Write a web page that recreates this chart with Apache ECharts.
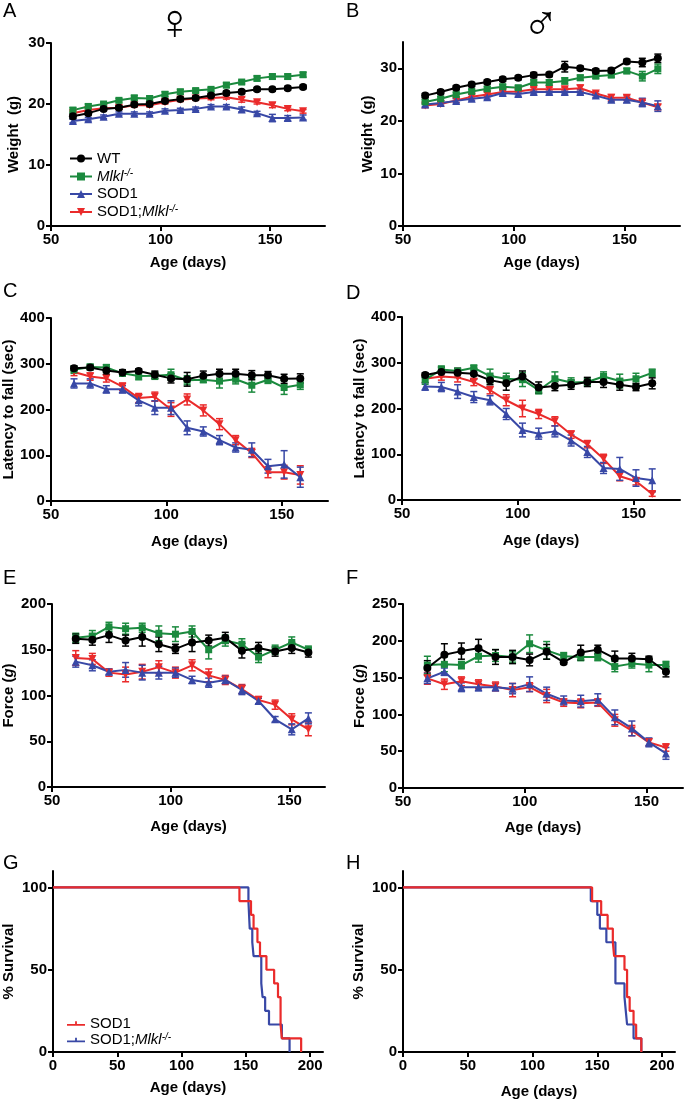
<!DOCTYPE html>
<html>
<head>
<meta charset="utf-8">
<script src="https://cdn.jsdelivr.net/npm/echarts@6/dist/echarts.min.js"></script>
<style>
html, body { margin: 0; padding: 0; background: #fff; }
#main { width: 685px; height: 1100px; }
</style>
</head>
<body>
<div id="main"></div>
<script>
// ages of measurement
var weightDays = [60, 67, 74, 81, 88, 95, 102, 109, 116, 123, 130, 137, 144, 151, 158, 165];
var testDays = [60, 67, 74, 81, 88, 95, 102, 109, 116, 123, 130, 137, 144, 151, 158];
var ageTicks = [50, 100, 150];
var survTicks = [0, 50, 100, 150, 200];

// A - female weight (g)
var fwWT = [18.0, 18.5, 19.2, 19.4, 19.9, 20.0, 20.5, 20.8, 21.0, 21.4, 21.8, 22.0, 22.4, 22.4, 22.6, 22.8];
var fwWTErr = [0.4, 0.3, 0.3, 0.3, 0.3, 0.3, 0.3, 0.3, 0.3, 0.3, 0.3, 0.3, 0.3, 0.3, 0.3, 0.3];
var fwMlkl = [19.0, 19.6, 20.0, 20.6, 21.0, 20.9, 21.6, 22.0, 22.2, 22.4, 23.1, 23.6, 24.2, 24.5, 24.5, 24.8];
var fwMlklErr = [0.4, 0.4, 0.3, 0.3, 0.4, 0.4, 0.4, 0.4, 0.3, 0.3, 0.4, 0.3, 0.4, 0.4, 0.4, 0.4];
var fwSOD1 = [17.2, 17.5, 17.9, 18.4, 18.4, 18.4, 18.9, 19.0, 19.2, 19.6, 19.6, 19.1, 18.5, 17.7, 17.7, 17.8];
var fwSOD1Err = [0.3, 0.3, 0.3, 0.3, 0.3, 0.3, 0.3, 0.3, 0.3, 0.3, 0.3, 0.4, 0.3, 0.6, 0.4, 0.4];
var fwDKO = [18.5, 19.0, 19.3, 19.4, 19.8, 19.8, 20.3, 20.7, 20.9, 21.0, 21.1, 20.7, 20.3, 19.8, 19.2, 18.8];
var fwDKOErr = [0.3, 0.3, 0.3, 0.3, 0.3, 0.3, 0.3, 0.3, 0.3, 0.3, 0.3, 0.4, 0.3, 0.4, 0.3, 0.3];

// B - male weight (g)
var mwWT = [24.8, 25.5, 26.3, 26.9, 27.4, 27.9, 28.2, 28.7, 28.8, 30.3, 30.0, 29.5, 29.6, 31.3, 31.1, 31.9];
var mwWTErr = [0.4, 0.4, 0.4, 0.4, 0.4, 0.4, 0.4, 0.5, 0.4, 1.0, 0.4, 0.4, 0.4, 0.4, 0.8, 0.8];
var mwMlkl = [23.6, 24.2, 25.0, 25.6, 26.1, 26.5, 26.3, 27.3, 27.3, 27.6, 28.2, 28.5, 28.7, 29.5, 28.5, 29.9];
var mwMlklErr = [0.4, 0.4, 0.4, 0.4, 0.4, 0.4, 0.4, 0.5, 0.5, 0.6, 0.5, 0.4, 0.4, 0.5, 0.9, 0.9];
var mwSOD1 = [23.1, 23.4, 23.8, 24.2, 24.5, 25.3, 25.1, 25.5, 25.5, 25.5, 25.5, 24.8, 24.0, 24.0, 23.5, 22.8];
var mwSOD1Err = [0.4, 0.4, 0.4, 0.4, 0.4, 0.4, 0.4, 0.4, 0.4, 0.4, 0.4, 0.4, 0.4, 0.5, 0.8, 1.0];
var mwDKO = [22.9, 23.2, 23.9, 24.6, 25.0, 25.5, 25.6, 26.0, 26.0, 26.0, 26.2, 25.2, 24.4, 24.4, 23.5, 22.6];
var mwDKOErr = [0.4, 0.4, 0.4, 0.4, 0.4, 0.4, 0.4, 0.4, 0.4, 0.4, 0.6, 0.4, 0.6, 0.5, 0.4, 0.5];

// C - female latency to fall (sec)
var frWT = [290, 292, 285, 281, 284, 276, 268, 266, 274, 278, 278, 275, 275, 267, 268];
var frWTErr = [5, 5, 8, 6, 5, 8, 10, 15, 10, 10, 10, 10, 8, 10, 10];
var frMlkl = [287, 293, 292, 279, 273, 274, 276, 264, 265, 262, 266, 253, 265, 248, 254];
var frMlklErr = [8, 6, 6, 6, 8, 8, 12, 10, 6, 15, 10, 15, 8, 15, 10];
var frSOD1 = [257, 257, 244, 244, 220, 204, 204, 160, 152, 133, 117, 112, 76, 80, 52];
var frSOD1Err = [10, 10, 8, 8, 12, 15, 15, 15, 10, 10, 10, 15, 15, 30, 22];
var frDKO = [282, 272, 268, 250, 225, 228, 200, 222, 198, 168, 133, 105, 63, 63, 57];
var frDKOErr = [8, 8, 8, 8, 10, 10, 15, 12, 12, 12, 10, 10, 12, 15, 20];

// D - male latency to fall (sec)
var mrWT = [273, 280, 278, 276, 262, 255, 270, 246, 249, 252, 258, 258, 252, 247, 255];
var mrWTErr = [5, 10, 10, 12, 10, 15, 12, 12, 10, 10, 10, 12, 12, 8, 12];
var mrMlkl = [263, 285, 282, 289, 271, 265, 263, 240, 265, 257, 258, 270, 260, 265, 278];
var mrMlklErr = [10, 8, 5, 5, 15, 12, 15, 8, 15, 10, 8, 10, 15, 12, 8];
var mrSOD1 = [248, 247, 237, 225, 218, 188, 153, 145, 150, 130, 105, 70, 68, 48, 43];
var mrSOD1Err = [8, 10, 15, 12, 10, 12, 15, 12, 12, 12, 12, 12, 25, 18, 25];
var mrDKO = [265, 270, 268, 258, 240, 218, 200, 188, 172, 143, 122, 90, 52, 41, 13];
var mrDKOErr = [8, 8, 10, 8, 8, 12, 18, 10, 10, 8, 8, 10, 10, 8, 5];

// E - female grip force (g)
var fgWT = [162, 161, 166, 160, 164, 156, 151, 158, 160, 163, 149, 152, 148, 152, 147];
var fgWTErr = [5, 6, 8, 6, 10, 8, 5, 10, 6, 6, 8, 6, 5, 6, 5];
var fgMlkl = [163, 165, 175, 173, 174, 168, 167, 170, 150, 160, 156, 142, 150, 158, 150];
var fgMlklErr = [5, 6, 5, 6, 5, 8, 8, 6, 10, 6, 6, 6, 5, 6, 4];
var fgSOD1 = [137, 133, 126, 128, 125, 125, 125, 117, 114, 117, 106, 94, 74, 63, 75];
var fgSOD1Err = [6, 6, 3, 8, 8, 7, 5, 4, 5, 4, 5, 3, 3, 6, 6];
var fgDKO = [141, 140, 125, 123, 126, 131, 125, 133, 122, 117, 107, 95, 90, 74, 63];
var fgDKOErr = [8, 6, 4, 8, 8, 7, 6, 6, 7, 5, 5, 4, 5, 6, 7];

// F - male grip force (g)
var mgWT = [163, 181, 186, 190, 178, 178, 174, 185, 171, 184, 188, 176, 176, 175, 158];
var mgWTErr = [10, 15, 11, 12, 10, 9, 8, 10, 3, 10, 6, 10, 7, 4, 7];
var mgMlkl = [167, 168, 167, 179, 180, 178, 196, 187, 179, 178, 178, 165, 169, 167, 167];
var mgMlklErr = [12, 10, 5, 8, 8, 7, 12, 12, 5, 5, 5, 7, 6, 9, 5];
var mgSOD1 = [149, 158, 137, 137, 137, 135, 141, 128, 119, 118, 120, 96, 81, 62, 47];
var mgSOD1Err = [7, 5, 6, 5, 5, 7, 10, 9, 6, 8, 8, 10, 10, 6, 8];
var mgDKO = [149, 141, 145, 141, 138, 133, 137, 125, 116, 115, 116, 92, 78, 62, 55];
var mgDKOErr = [8, 7, 6, 6, 6, 9, 6, 9, 5, 6, 5, 8, 7, 5, 5];

// G - female survival (Kaplan-Meier steps)
var fsSOD1Days = [0, 145, 154, 156, 159, 161, 166, 172, 175, 177, 178, 193];
var fsSOD1Pct = [100, 91.7, 83.3, 75, 66.7, 58.3, 50, 41.7, 33.3, 16.7, 8.3, 0];
var fsDKODays = [0, 152, 153, 155, 156, 162, 163, 165, 168, 178, 184];
var fsDKOPct = [100, 91.7, 75, 66.7, 58.3, 41.7, 33.3, 25, 16.7, 8.3, 0];

// H - male survival
var msSOD1Days = [0, 146, 153, 158, 162, 163, 171, 173, 175, 178, 180, 184];
var msSOD1Pct = [100, 91.7, 83.3, 75, 66.7, 58.3, 50, 33.3, 25, 16.7, 8.3, 0];
var msDKODays = [0, 145, 150, 152, 157, 164, 171, 172, 173, 178, 184];
var msDKOPct = [100, 91.7, 83.3, 75, 66.7, 41.7, 33.3, 25, 16.7, 8.3, 0];

var FONT = '"Liberation Sans", Arial, Helvetica, sans-serif';
var groups = [
    {name: 'WT', color: '#000000', symbol: 'circle', size: 8, rotate: 0},
    {name: 'Mlkl-/-', color: '#1b8a3e', symbol: 'rect', size: 7, rotate: 0},
    {name: 'SOD1', color: '#3848a6', symbol: 'triangle', size: 8, rotate: 0},
    {name: 'SOD1;Mlkl-/-', color: '#ea2b2b', symbol: 'triangle', size: 8, rotate: 180}
];
var survRed = '#ea2b2b', survBlue = '#3848a6';

var panels = [
    {grid: {left: 51, top: 43, width: 274, height: 183}, xMax: 175, yMax: 30, yTicks: [0, 10, 20, 30],
     yName: 'Weight  (g)', yGap: 30, xGap: 29, days: weightDays,
     vals: [fwWT, fwMlkl, fwSOD1, fwDKO], errs: [fwWTErr, fwMlklErr, fwSOD1Err, fwDKOErr]},
    {grid: {left: 403, top: 42, width: 277, height: 184}, xMax: 175, yMax: 35, yTicks: [0, 10, 20, 30],
     yName: 'Weight  (g)', yGap: 28, xGap: 29, days: weightDays,
     vals: [mwWT, mwMlkl, mwSOD1, mwDKO], errs: [mwWTErr, mwMlklErr, mwSOD1Err, mwDKOErr]},
    {grid: {left: 50, top: 318, width: 278, height: 183}, xMax: 170, yMax: 400, yTicks: [0, 100, 200, 300, 400],
     yName: 'Latency to fall (sec)', yGap: 34, xGap: 33, days: testDays,
     vals: [frWT, frMlkl, frSOD1, frDKO], errs: [frWTErr, frMlklErr, frSOD1Err, frDKOErr]},
    {grid: {left: 402, top: 317, width: 278, height: 183}, xMax: 170, yMax: 400, yTicks: [0, 100, 200, 300, 400],
     yName: 'Latency to fall (sec)', yGap: 34, xGap: 33, days: testDays,
     vals: [mrWT, mrMlkl, mrSOD1, mrDKO], errs: [mrWTErr, mrMlklErr, mrSOD1Err, mrDKOErr]},
    {grid: {left: 50, top: 604, width: 275, height: 183}, xMax: 165, yMax: 200, yTicks: [0, 50, 100, 150, 200],
     yName: '{b|Force (}{bi|g}{b|)}', yGap: 36, xGap: 32, days: testDays,
     vals: [fgWT, fgMlkl, fgSOD1, fgDKO], errs: [fgWTErr, fgMlklErr, fgSOD1Err, fgDKOErr]},
    {grid: {left: 403, top: 604, width: 280, height: 184}, xMax: 165, yMax: 250, yTicks: [0, 50, 100, 150, 200, 250],
     yName: '{b|Force (}{bi|g}{b|)}', yGap: 36, xGap: 32, days: testDays,
     vals: [mgWT, mgMlkl, mgSOD1, mgDKO], errs: [mgWTErr, mgMlklErr, mgSOD1Err, mgDKOErr]}
];

var survPanels = [
    {grid: {left: 51, top: 871, width: 272, height: 181}, yGap: 37, xGap: 28,
     red: [fsSOD1Days, fsSOD1Pct], blue: [fsDKODays, fsDKOPct]},
    {grid: {left: 403, top: 871, width: 272, height: 181}, yGap: 37, xGap: 32,
     red: [msSOD1Days, msSOD1Pct], blue: [msDKODays, msDKOPct]}
];

var boldText = {fontFamily: FONT, fontWeight: 'bold', fontSize: 15, color: '#000'};
var nameRich = {
    b: {fontFamily: FONT, fontWeight: 'bold', fontSize: 15, color: '#000'},
    bi: {fontFamily: FONT, fontWeight: 'bold', fontStyle: 'italic', fontSize: 15, color: '#000'}
};

function makeX(gi, max, ticks, gap) {
    return {
        type: 'value', gridIndex: gi, min: ticks[0], max: max,
        axisLine: {show: true, onZero: false, lineStyle: {color: '#000', width: 2}},
        axisTick: {show: true, length: 5, lineStyle: {color: '#000', width: 2}, customValues: ticks},
        axisLabel: Object.assign({customValues: ticks, margin: 6}, boldText),
        splitLine: {show: false},
        name: 'Age (days)', nameLocation: 'middle', nameGap: gap, nameTextStyle: boldText
    };
}
function makeY(gi, max, ticks, name, gap) {
    return {
        type: 'value', gridIndex: gi, min: 0, max: max,
        axisLine: {show: true, lineStyle: {color: '#000', width: 2}},
        axisTick: {show: true, length: 5, lineStyle: {color: '#000', width: 2}, customValues: ticks},
        axisLabel: Object.assign({customValues: ticks, margin: 6}, boldText),
        splitLine: {show: false},
        name: name, nameLocation: 'middle', nameGap: gap,
        nameTextStyle: Object.assign({rich: nameRich}, boldText)
    };
}

function errorBar(params, api) {
    var x = api.value(0), y = api.value(1), e = api.value(2);
    var hi = api.coord([x, y + e]), lo = api.coord([x, y - e]);
    var w = 3.5, st = {stroke: api.visual('color'), lineWidth: 1.5};
    return {type: 'group', children: [
        {type: 'line', shape: {x1: hi[0], y1: hi[1], x2: lo[0], y2: lo[1]}, style: st},
        {type: 'line', shape: {x1: hi[0] - w, y1: hi[1], x2: hi[0] + w, y2: hi[1]}, style: st},
        {type: 'line', shape: {x1: lo[0] - w, y1: lo[1], x2: lo[0] + w, y2: lo[1]}, style: st}
    ]};
}

var grids = [], xAxes = [], yAxes = [], lineSeries = [], barSeries = [];
// draw WT last so it sits on top
var drawOrder = [3, 2, 1, 0];

panels.forEach(function (p, gi) {
    grids.push(Object.assign({containLabel: false}, p.grid));
    xAxes.push(makeX(gi, p.xMax, ageTicks, p.xGap));
    yAxes.push(makeY(gi, p.yMax, p.yTicks, p.yName, p.yGap));
    drawOrder.forEach(function (k) {
        var g = groups[k];
        lineSeries.push({
            name: g.name, type: 'line', xAxisIndex: gi, yAxisIndex: gi,
            data: p.days.map(function (d, i) { return [d, p.vals[k][i]]; }),
            symbol: g.symbol, symbolSize: g.size, symbolRotate: g.rotate,
            showAllSymbol: true,
            itemStyle: {color: g.color}, lineStyle: {color: g.color, width: 2},
            z: 3, animation: false
        });
        barSeries.push({
            name: g.name, type: 'custom', xAxisIndex: gi, yAxisIndex: gi,
            renderItem: errorBar,
            data: p.days.map(function (d, i) { return [d, p.vals[k][i], p.errs[k][i]]; }),
            encode: {x: 0, y: 1},
            itemStyle: {color: g.color}, z: 2, animation: false
        });
    });
});

survPanels.forEach(function (p, j) {
    var gi = panels.length + j;
    grids.push(Object.assign({containLabel: false}, p.grid));
    xAxes.push(makeX(gi, 210, survTicks, p.xGap));
    yAxes.push(makeY(gi, 110, [0, 50, 100], '% Survival', p.yGap));
    lineSeries.push({
        name: 'SOD1;Mlkl-/- survival', type: 'line', xAxisIndex: gi, yAxisIndex: gi,
        step: 'end', showSymbol: false,
        data: p.blue[0].map(function (d, i) { return [d, p.blue[1][i]]; }),
        itemStyle: {color: survBlue}, lineStyle: {color: survBlue, width: 2.2}, animation: false
    });
    lineSeries.push({
        name: 'SOD1 survival', type: 'line', xAxisIndex: gi, yAxisIndex: gi,
        step: 'end', showSymbol: false,
        data: p.red[0].map(function (d, i) { return [d, p.red[1][i]]; }),
        itemStyle: {color: survRed}, lineStyle: {color: survRed, width: 2.2}, animation: false
    });
});

var legendRich = {
    n: {fontFamily: FONT, fontSize: 15, color: '#000', lineHeight: 16},
    i: {fontFamily: FONT, fontSize: 15, fontStyle: 'italic', color: '#000', lineHeight: 16},
    s: {fontFamily: FONT, fontSize: 10, fontStyle: 'italic', color: '#000', lineHeight: 10, verticalAlign: 'top'}
};
var legendLabels = {
    'WT': '{n|WT}',
    'Mlkl-/-': '{i|Mlkl}{s|-/-}',
    'SOD1': '{n|SOD1}',
    'SOD1;Mlkl-/-': '{n|SOD1;}{i|Mlkl}{s|-/-}',
    'SOD1 survival': '{n|SOD1}',
    'SOD1;Mlkl-/- survival': '{n|SOD1;}{i|Mlkl}{s|-/-}'
};
var kmIcon = 'path://M0,5H20V7H0Z M9,2H11V6H9Z';

var letters = ['A', 'B', 'C', 'D', 'E', 'F', 'G', 'H'];
var letterPos = [[3, 1], [346, 1], [3, 281], [346, 283], [3, 568], [346, 568], [3, 853], [346, 853]];
var graphics = letters.map(function (t, i) {
    return {type: 'text', left: letterPos[i][0], top: letterPos[i][1],
            style: {text: t, fontFamily: FONT, fontSize: 20, fill: '#000'}};
});
graphics.push({type: 'text', left: 156, top: 1, style: {text: '\u2640', fontFamily: 'DejaVu Sans', fontWeight: 200, fontSize: 50, fill: '#000'}});
graphics.push({type: 'text', left: 522, top: 2, style: {text: '\u2642', fontFamily: 'DejaVu Sans', fontWeight: 200, fontSize: 50, fill: '#000'}});

var chart = echarts.init(document.getElementById('main'), null, {renderer: 'canvas'});
chart.setOption({
    backgroundColor: '#fff',
    animation: false,
    grid: grids,
    xAxis: xAxes,
    yAxis: yAxes,
    legend: [
        {data: ['WT', 'Mlkl-/-', 'SOD1', 'SOD1;Mlkl-/-'], orient: 'vertical', left: 64, top: 146,
         itemWidth: 22, itemHeight: 10, itemGap: 2.5,
         formatter: function (n) { return legendLabels[n]; },
         textStyle: {rich: legendRich, fontFamily: FONT, fontSize: 15, color: '#000'}},
        {data: [{name: 'SOD1 survival', icon: kmIcon}, {name: 'SOD1;Mlkl-/- survival', icon: kmIcon}],
         orient: 'vertical', left: 62, top: 1011, itemWidth: 18, itemHeight: 8, itemGap: 1,
         formatter: function (n) { return legendLabels[n]; },
         textStyle: {rich: legendRich, fontFamily: FONT, fontSize: 15, color: '#000'}}
    ],
    graphic: graphics,
    series: lineSeries.concat(barSeries)
});
</script>
</body>
</html>
